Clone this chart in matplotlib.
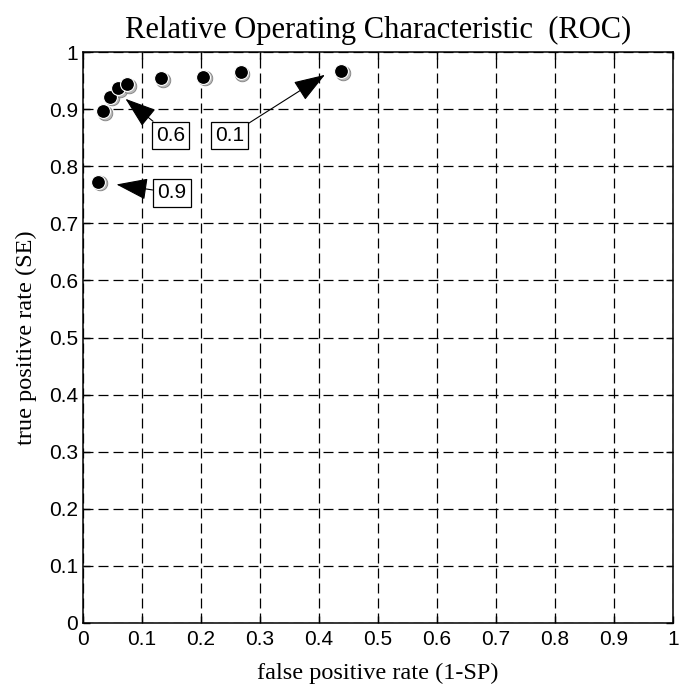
import matplotlib
matplotlib.use("Agg")
from matplotlib import pyplot as plt
from matplotlib.transforms import ScaledTranslation

# ROC points (false positive rate, true positive rate)
fpr = [0.034, 0.0453, 0.0594, 0.0753, 0.132, 0.2036, 0.267, 0.437, 0.0254]
tpr = [0.896, 0.922, 0.937, 0.944, 0.955, 0.957, 0.965, 0.966, 0.773]

# threshold annotations: label, arrow tip, box centre
ann_labels = ["0.6", "0.1", "0.9"]
ann_tips = [(0.072, 0.918), (0.410, 0.960), (0.0567, 0.768)]
ann_boxes = [(0.148, 0.854), (0.2484, 0.854), (0.1505, 0.7533)]

ticks = [0, 0.1, 0.2, 0.3, 0.4, 0.5, 0.6, 0.7, 0.8, 0.9, 1]
tick_labels = ["0", "0.1", "0.2", "0.3", "0.4", "0.5", "0.6", "0.7", "0.8", "0.9", "1"]

sans = "Liberation Sans"
serif = "Liberation Serif"

fig = plt.figure(figsize=(6.8, 6.87), dpi=100)
ax = fig.add_axes([83 / 680, (687 - 623) / 687, 590 / 680, 571 / 687])

ax.set_xlim(0, 1)
ax.set_ylim(0, 1)
ax.set_xticks(ticks)
ax.set_yticks(ticks)
ax.set_xticklabels(tick_labels, fontfamily=sans, fontsize=15)
ax.set_yticklabels(tick_labels, fontfamily=sans, fontsize=15)
ax.tick_params(direction="in", top=True, right=True, length=5, width=1)
ax.tick_params(axis="x", pad=5)
ax.tick_params(axis="y", pad=3.5)
for s in ax.spines.values():
    s.set_linewidth(1.1)

ax.grid(True, color="black", linestyle=(0, (8, 4)), linewidth=0.9)
ax.set_axisbelow(True)

# shadowed markers
shadow = ax.transData + ScaledTranslation(1.3 / 72, -1.3 / 72, fig.dpi_scale_trans)
ax.plot(fpr, tpr, "o", ms=10.5, color="#b8b8b8", mec="#808080", mew=0.6,
        transform=shadow, zorder=3)
ax.plot(fpr, tpr, "o", ms=10, color="black", mec="white", mew=0.8, zorder=4)

for lab, tip, box in zip(ann_labels, ann_tips, ann_boxes):
    ax.annotate(lab, xy=tip, xytext=box, ha="center", va="center",
                fontfamily=sans, fontsize=15, zorder=5,
                bbox=dict(boxstyle="square,pad=0.2", fc="white", ec="black", lw=0.9),
                arrowprops=dict(arrowstyle="-|>,head_length=1.1,head_width=0.38",
                                mutation_scale=18, color="black", lw=0.8,
                                shrinkA=0, shrinkB=0))

ax.set_title("Relative Operating Characteristic  (ROC)", fontfamily=serif,
             fontsize=22, pad=10)
ax.set_xlabel("false positive rate (1-SP)", fontfamily=serif, fontsize=17.5, labelpad=10)
ax.set_ylabel("true positive rate (SE)", fontfamily=serif, fontsize=17.5, labelpad=9)

fig.savefig("out.png", dpi=100)
